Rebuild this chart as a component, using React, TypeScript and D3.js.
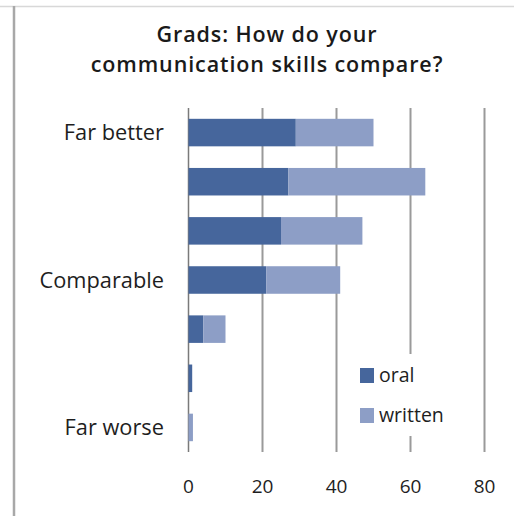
import React from "react";
import * as d3 from "d3";

const categories = ["Far better", "2", "3", "Comparable", "5", "6", "Far worse"];
const categoryLabels = ["Far better", "", "", "Comparable", "", "", "Far worse"];
const oral = [29, 27, 25, 21, 4, 1, 0];
const written = [21, 37, 22, 20, 6, 0, 1.2];
const seriesNames = ["oral", "written"];
const xTicks = [0, 20, 40, 60, 80];
const titleLines = ["Grads: How do your", "communication skills compare?"];

const W = 514;
const H = 516;
const colors = ["#46669c", "#8d9ec6"];
const font = "'Open Sans', sans-serif";

export default function App() {
  const x = d3.scaleLinear().domain([0, 80]).range([188.5, 484.5]);
  const y = d3
    .scaleBand()
    .domain(categories)
    .range([108, 452])
    .paddingInner(0.44)
    .paddingOuter(0.22);

  const rows = categories.map((c, i) => ({ c, oral: oral[i], written: written[i] }));
  const stack = d3.stack<any>().keys(seriesNames)(rows);

  return (
    <svg
      width={W}
      height={H}
      style={{ position: "absolute", left: 0, top: 0, background: "#fff" }}
      fontFamily={font}
    >
      <rect x={0} y={0} width={W} height={H} fill="#fff" />
      <line x1={0} x2={W} y1={6.5} y2={6.5} stroke="#d8d8d8" strokeWidth={1.5} />
      <line x1={14} x2={14} y1={6} y2={H} stroke="#a8a8a8" strokeWidth={2.5} />

      {titleLines.map((l, i) => (
        <text
          key={i}
          x={267}
          y={42 + i * 29.6}
          textAnchor="middle"
          fontSize={21.5}
          fontWeight={600}
          letterSpacing={0.9}
          fill="#1a1a1a"
        >
          {l}
        </text>
      ))}

      {xTicks.slice(1).map((t) => (
        <line key={t} x1={x(t)} x2={x(t)} y1={108} y2={452} stroke="#9a9a9a" strokeWidth={2} />
      ))}
      <line x1={x(0)} x2={x(0)} y1={108} y2={452} stroke="#7a7a7a" strokeWidth={1.5} />

      {stack.map((s, si) =>
        s.map((d, i) => (
          <rect
            key={si + "-" + i}
            x={x(d[0])}
            y={y(categories[i])!}
            width={Math.max(0, x(d[1]) - x(d[0]))}
            height={y.bandwidth()}
            fill={colors[si]}
          />
        ))
      )}

      {categoryLabels.map((l, i) =>
        l ? (
          <text
            key={i}
            x={164}
            y={y(categories[i])! + y.bandwidth() / 2 + 7.5}
            textAnchor="end"
            fontSize={21.8}
            fill="#1e1e1e"
          >
            {l}
          </text>
        ) : null
      )}

      {xTicks.map((t) => (
        <text key={t} x={x(t)} y={493} textAnchor="middle" fontSize={19} fill="#1e1e1e">
          {t}
        </text>
      ))}

      <g>
        <rect x={352} y={354} width={118} height={82} fill="#fff" />
        {seriesNames.map((n, i) => (
          <g key={n}>
            <rect x={360} y={368 + i * 40} width={14} height={15} fill={colors[i]} />
            <text x={379} y={381.5 + i * 40} fontSize={19.5} fill="#1e1e1e">
              {n}
            </text>
          </g>
        ))}
      </g>
    </svg>
  );
}
